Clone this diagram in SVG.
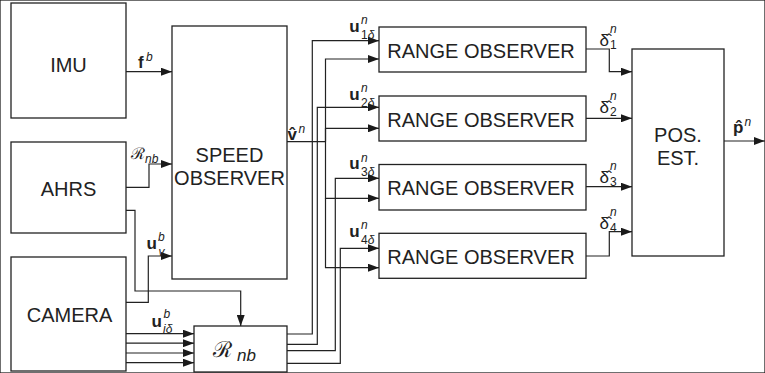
<svg xmlns="http://www.w3.org/2000/svg" width="765" height="373" viewBox="0 0 765 373">
<defs>
<marker id="ah" viewBox="0 0 11 8" refX="11" refY="4" markerWidth="11" markerHeight="8" orient="auto" markerUnits="userSpaceOnUse"><path d="M0,0 L11,4 L0,8 z" fill="#1a1a1a"/></marker>
<style>
rect{fill:#fff;stroke:#222;stroke-width:1.3}
.c path{fill:none;stroke:#222;stroke-width:1.2;marker-end:url(#ah)}
text{fill:#222}
.big{font-size:20px;text-anchor:middle}
.m{font-size:17px}
.b{font-weight:bold}
.s{font-size:12px;font-style:italic}
.r{font-size:12px}
</style>
</defs>
<rect width="765" height="373" fill="#fff" stroke="none"/>
<g font-family="'Liberation Sans', Arial, sans-serif">
<g id="imu"><rect x="11" y="3" width="115" height="115"/><text class="big" x="68.5" y="71.5" font-size="24.5">IMU</text></g>
<g id="ahrs"><rect x="11" y="142" width="115" height="91"/><text class="big" x="68.5" y="196" font-size="23">AHRS</text></g>
<g id="camera"><rect x="11" y="257" width="115" height="114"/><text class="big" x="69.5" y="321.5" font-size="23.5">CAMERA</text></g>
<g id="speed"><rect x="172" y="26" width="115" height="253"/><text class="big" x="229.5" y="162">SPEED</text><text class="big" x="229.5" y="184.8">OBSERVER</text></g>
<g id="rnb"><rect x="194" y="326" width="93" height="46"/><text x="213" y="357" font-family="'DejaVu Serif', serif" font-size="22">ℛ</text><text x="237" y="361" font-size="17" font-style="italic">nb</text></g>
<g id="range1"><rect x="379" y="27" width="207" height="45"/><text class="big" x="481" y="58.3" font-size="20.3">RANGE OBSERVER</text></g>
<g id="range2"><rect x="379" y="96" width="207" height="45"/><text class="big" x="481" y="126.8" font-size="20.3">RANGE OBSERVER</text></g>
<g id="range3"><rect x="379" y="164.5" width="207" height="45.5"/><text class="big" x="481" y="195.3" font-size="20.3">RANGE OBSERVER</text></g>
<g id="range4"><rect x="379" y="233.3" width="207" height="45"/><text class="big" x="481" y="264" font-size="20.3">RANGE OBSERVER</text></g>
<g id="posest"><rect x="632" y="49" width="92" height="207"/><text class="big" x="678" y="141.7">POS.</text><text class="big" x="678" y="164.5">EST.</text></g>
<g class="c" id="connectors">
<path d="M126,71.7 H172"/>
<path d="M126,187.3 H149 V164 H172"/>
<path d="M126,210.3 H135 V291 H240.7 V326"/>
<path d="M126,302.3 H148.3 V256 H172"/>
<path d="M126,333.7 H194"/>
<path d="M126,343.2 H194"/>
<path d="M126,353 H194"/>
<path d="M126,362.7 H194"/>
<path d="M287,141.7 H325.5 V59 H379"/>
<path d="M325.5,141.7 V128.3 H379"/>
<path d="M325.5,141.7 V198.3 H379"/>
<path d="M325.5,198.3 V267.7 H379"/>
<path d="M287,334 H312.3 V40.7 H379"/>
<path d="M287,344.3 H317.3 V107.3 H379"/>
<path d="M287,350.7 H335.3 V178.3 H379"/>
<path d="M287,363.3 H340.3 V248.3 H379"/>
<path d="M586,49 H609.3 V71.7 H632"/>
<path d="M586,118.3 H632"/>
<path d="M586,186.7 H632"/>
<path d="M586,256 H609.3 V231.7 H632"/>
<path d="M724,141 H765"/>
</g>
<g id="labels">
<text class="m b" x="138" y="68">f</text><text class="s" x="146" y="61">b</text>
<text x="131" y="159" font-family="'DejaVu Serif', serif" font-size="16">ℛ</text><text class="s" x="145" y="163" font-size="16">nb</text>
<text class="m b" x="146.5" y="249.3">u</text><text class="s" x="158" y="241">b</text><text class="s" x="158.5" y="255.5">v</text>
<text class="m b" x="151.5" y="326.7">u</text><text class="s" x="163.5" y="317.5">b</text><text class="s" x="163" y="332.5">iδ</text>
<text class="m b" x="287.5" y="140">v̂</text><text class="s" x="298.5" y="133">n</text>
<text class="m b" x="349.3" y="31.7">u</text><text class="s" x="361" y="24">n</text><text class="r" x="361" y="38.5">1<tspan font-style="italic">δ</tspan></text>
<text class="m b" x="349.3" y="100">u</text><text class="s" x="361" y="92.3">n</text><text class="r" x="361" y="106.8">2<tspan font-style="italic">δ</tspan></text>
<text class="m b" x="349.3" y="169.3">u</text><text class="s" x="361" y="161.6">n</text><text class="r" x="361" y="176.1">3<tspan font-style="italic">δ</tspan></text>
<text class="m b" x="349.3" y="236.7">u</text><text class="s" x="361" y="229">n</text><text class="r" x="361" y="243.5">4<tspan font-style="italic">δ</tspan></text>
<text class="m" x="599.5" y="46">δ̂</text><text class="s" x="610" y="33">n</text><text class="r" x="610" y="49">1</text>
<text class="m" x="599.5" y="113.3">δ̂</text><text class="s" x="610" y="100.3">n</text><text class="r" x="610" y="116.3">2</text>
<text class="m" x="599.5" y="182.7">δ̂</text><text class="s" x="610" y="169.7">n</text><text class="r" x="610" y="185.7">3</text>
<text class="m" x="599.5" y="228.5">δ̂</text><text class="s" x="610" y="215.5">n</text><text class="r" x="610" y="231.5">4</text>
<text class="m b" x="733" y="133">p̂</text><text class="s" x="744.5" y="126">n</text>
</g>
</g>
</svg>
